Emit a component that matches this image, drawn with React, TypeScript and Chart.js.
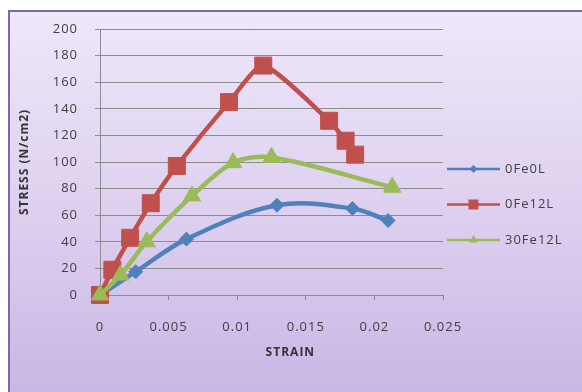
import React, { useEffect, useRef } from 'react';
import { Chart, registerables } from 'chart.js';

Chart.register(...registerables);

// Stress–strain readings for each specimen
const seriesNames = ['0Fe0L', '0Fe12L', '30Fe12L'];

const strain0Fe0L = [0, 0.0026, 0.0063, 0.0129, 0.0184, 0.021];
const stress0Fe0L = [0, 17.5, 42, 67.5, 65, 56];

const strain0Fe12L = [0, 0.0009, 0.0022, 0.0037, 0.0056, 0.0094, 0.0119, 0.0167, 0.0179, 0.0186];
const stress0Fe12L = [0, 19, 43, 69, 97, 145, 172.5, 131, 116, 105.5];

const strain30Fe12L = [0, 0.0015, 0.0034, 0.0067, 0.0097, 0.0125, 0.0213];
const stress30Fe12L = [0, 15, 40, 74.5, 99.5, 103.5, 81];

const xTickValues = [0, 0.005, 0.01, 0.015, 0.02, 0.025];
const xTickLabels = ['0', '0.005', '0.01', '0.015', '0.02', '0.025'];
const yTickValues = [0, 20, 40, 60, 80, 100, 120, 140, 160, 180, 200];

const xTitle = 'STRAIN';
const yTitle = 'STRESS (N/cm2)';

const seriesColors = ['#4F81BD', '#C0504D', '#9BBB59'];
const seriesMarkers = ['rectRot', 'rect', 'triangle'];
const markerRadius = [7, 12, 10];
const seriesTension = [0.35, 0.2, 0.3];

const gridColor = '#8c8c8c';
const textColor = '#404040';
const fontFamily = '"Open Sans", "DejaVu Sans", sans-serif';

const toPoints = (xs: number[], ys: number[]) => xs.map((x, i) => ({ x, y: ys[i] }));

// Small legend marker: line with a centred symbol
function drawLegendMarker(ctx: CanvasRenderingContext2D, kind: string, cx: number, cy: number, color: string) {
  ctx.fillStyle = color;
  ctx.beginPath();
  if (kind === 'rectRot') {
    const r = 4;
    ctx.moveTo(cx, cy - r);
    ctx.lineTo(cx + r, cy);
    ctx.lineTo(cx, cy + r);
    ctx.lineTo(cx - r, cy);
  } else if (kind === 'rect') {
    const h = 5;
    ctx.rect(cx - h, cy - h, 2 * h, 2 * h);
  } else {
    const r = 5;
    ctx.moveTo(cx, cy - r);
    ctx.lineTo(cx + r * 0.87, cy + r * 0.5);
    ctx.lineTo(cx - r * 0.87, cy + r * 0.5);
  }
  ctx.closePath();
  ctx.fill();
}

const textSpacingPlugin = {
  id: 'textSpacing',
  beforeDraw(chart: any) {
    chart.ctx.letterSpacing = '1px';
  },
};

const annotationsPlugin = {
  id: 'sideLegendAndTitle',
  afterDraw(chart: any) {
    const { ctx, chartArea } = chart;
    ctx.save();
    ctx.letterSpacing = '1px';

    // x-axis title
    ctx.fillStyle = '#333333';
    ctx.font = `bold 12px ${fontFamily}`;
    ctx.textAlign = 'center';
    ctx.textBaseline = 'middle';
    const tx = chartArea.left + (chartArea.right - chartArea.left) * 0.555;
    ctx.fillText(xTitle, tx, chartArea.bottom + 58);

    // legend at the right
    const lx = chartArea.right + 4;
    const top = chartArea.top + 140;
    const gap = 35.5;
    chart.data.datasets.forEach((ds: any, i: number) => {
      const y = top + i * gap;
      ctx.strokeStyle = ds.borderColor;
      ctx.lineWidth = 2.5;
      ctx.beginPath();
      ctx.moveTo(lx, y);
      ctx.lineTo(lx + 53, y);
      ctx.stroke();
      drawLegendMarker(ctx, seriesMarkers[i], lx + 26.5, y, ds.borderColor);
      ctx.fillStyle = textColor;
      ctx.font = `13px ${fontFamily}`;
      ctx.textAlign = 'left';
      ctx.textBaseline = 'middle';
      ctx.fillText(ds.label, lx + 58, y);
    });
    ctx.restore();
  },
};

export default function App() {
  const canvasRef = useRef<HTMLCanvasElement | null>(null);

  useEffect(() => {
    const canvas = canvasRef.current;
    if (!canvas) return;

    const seriesData = [
      toPoints(strain0Fe0L, stress0Fe0L),
      toPoints(strain0Fe12L, stress0Fe12L),
      toPoints(strain30Fe12L, stress30Fe12L),
    ];

    const chart = new Chart(canvas, {
      type: 'line',
      data: {
        datasets: seriesData.map((data, i) => ({
          label: seriesNames[i],
          data,
          borderColor: seriesColors[i],
          backgroundColor: seriesColors[i],
          borderWidth: 4.5,
          tension: seriesTension[i],
          fill: false,
          clip: false,
          pointStyle: seriesMarkers[i] as any,
          pointRadius: markerRadius[i],
          pointBackgroundColor: seriesColors[i],
          pointBorderColor: seriesColors[i],
          pointBorderWidth: 1,
          order: 3 - i,
        })),
      },
      options: {
        responsive: false,
        animation: false,
        devicePixelRatio: 1,
        layout: { padding: { left: 17, top: 29, right: 139, bottom: 27 } },
        plugins: {
          legend: { display: false },
          tooltip: { enabled: false },
        },
        scales: {
          x: {
            type: 'linear',
            min: xTickValues[0],
            max: xTickValues[xTickValues.length - 1],
            afterBuildTicks: (scale: any) => {
              scale.ticks = xTickValues.map((v) => ({ value: v }));
            },
            afterFit: (scale: any) => {
              scale.height = 70;
            },
            ticks: {
              autoSkip: false,
              maxRotation: 0,
              padding: 19.5,
              color: textColor,
              font: { family: fontFamily, size: 13 },
              callback: (value: any) => {
                const idx = xTickValues.findIndex((v) => Math.abs(v - Number(value)) < 1e-9);
                return idx >= 0 ? xTickLabels[idx] : '';
              },
            },
            grid: { drawOnChartArea: false, drawTicks: true, tickLength: 5, color: gridColor, lineWidth: 1 },
            border: { color: gridColor, width: 1 },
          },
          y: {
            type: 'linear',
            min: yTickValues[0],
            max: yTickValues[yTickValues.length - 1],
            afterBuildTicks: (scale: any) => {
              scale.ticks = yTickValues.map((v) => ({ value: v }));
            },
            afterFit: (scale: any) => {
              scale.width = 83;
            },
            ticks: {
              padding: 17,
              color: textColor,
              font: { family: fontFamily, size: 13 },
            },
            grid: { color: gridColor, lineWidth: 1, tickLength: 5 },
            border: { color: gridColor, width: 1 },
            title: {
              display: true,
              text: yTitle,
              color: '#333333',
              font: { family: fontFamily, size: 12, weight: 'bold' },
              padding: { top: 0, bottom: 0 },
            },
          },
        },
      },
      plugins: [textSpacingPlugin, annotationsPlugin],
    });

    return () => chart.destroy();
  }, []);

  return (
    <div style={{ position: 'absolute', left: 0, top: 0, width: 582, height: 392, background: '#ffffff', overflow: 'hidden' }}>
      <div
        style={{
          position: 'absolute',
          left: 8,
          top: 10,
          width: 590,
          height: 400,
          border: '2px solid #7b69a5',
          background: 'linear-gradient(to bottom, #efe7fa 0%, #ddd0ef 50%, #c7b4e4 100%)',
        }}
      />
      <canvas
        ref={canvasRef}
        width={582}
        height={392}
        style={{ position: 'absolute', left: 0, top: 0, width: 582, height: 392, display: 'block' }}
      />
    </div>
  );
}
